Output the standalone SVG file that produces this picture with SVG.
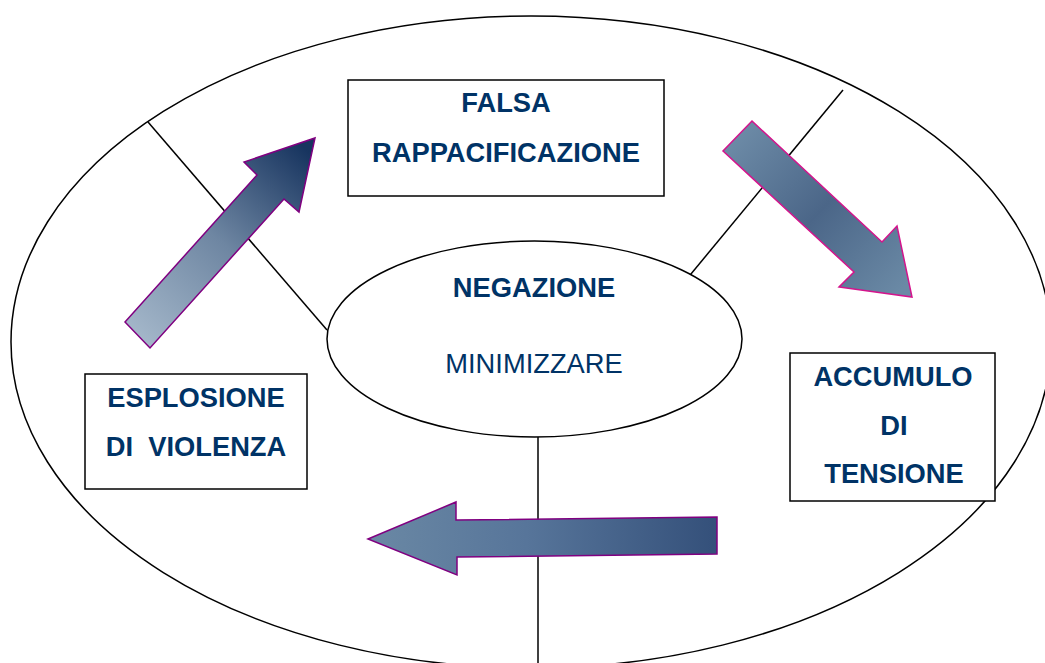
<svg xmlns="http://www.w3.org/2000/svg" width="1045" height="663" viewBox="0 0 1045 663">
<defs>
<linearGradient id="gA" gradientUnits="userSpaceOnUse" x1="137" y1="335" x2="305" y2="148">
<stop offset="0" stop-color="#a3b6c9"/>
<stop offset="0.5" stop-color="#6e86a2"/>
<stop offset="1" stop-color="#17345f"/>
</linearGradient>
<linearGradient id="gB" gradientUnits="userSpaceOnUse" x1="737" y1="136" x2="900" y2="290">
<stop offset="0" stop-color="#6c8aa6"/>
<stop offset="0.5" stop-color="#4b6688"/>
<stop offset="1" stop-color="#6a89a5"/>
</linearGradient>
<linearGradient id="gC" gradientUnits="userSpaceOnUse" x1="370" y1="540" x2="717" y2="530">
<stop offset="0" stop-color="#6a88a4"/>
<stop offset="0.45" stop-color="#57759a"/>
<stop offset="1" stop-color="#34507a"/>
</linearGradient>
<style>
.ln{fill:none;stroke:#000;stroke-width:1.5}
.box{fill:#fff;stroke:#000;stroke-width:1.5}
.lb{font-family:"Liberation Sans",Arial,sans-serif;font-size:27.3px;font-weight:bold;fill:#003366;text-anchor:middle}
.lr{font-family:"Liberation Sans",Arial,sans-serif;font-size:27.3px;fill:#003366;text-anchor:middle}
</style>
</defs>
<rect width="1045" height="663" fill="#fff"/>
<ellipse id="outer" cx="531" cy="342" rx="520" ry="326" class="ln"/>
<g id="connectors">
<line x1="148" y1="122" x2="327" y2="330" class="ln"/>
<line x1="843" y1="90" x2="686" y2="280" class="ln"/>
<line x1="538" y1="437" x2="538" y2="663" class="ln"/>
</g>
<g id="arrows">
<polygon points="125,322 257,175 244,162 315,138 299,212 284,199 150,348" fill="url(#gA)" stroke="#800080" stroke-width="1.5" stroke-linejoin="miter"/>
<polygon points="752,121 882,242 897,226 912,297 839,287 854,272 723,151" fill="url(#gB)" stroke="#d4148c" stroke-width="1.5"/>
<polygon points="368,539 456,502 456,520 717,517 717,554 457,557 457,575" fill="url(#gC)" stroke="#800080" stroke-width="1.5"/>
</g>
<g id="negazione">
<ellipse cx="534.5" cy="339" rx="207.5" ry="98" class="box"/>
<text x="534" y="297" class="lb">NEGAZIONE</text>
<text x="534" y="373" class="lr">MINIMIZZARE</text>
</g>
<g id="falsa">
<rect x="348" y="80" width="316" height="116" class="box"/>
<text x="506" y="112" class="lb">FALSA</text>
<text x="506" y="162" class="lb">RAPPACIFICAZIONE</text>
</g>
<g id="esplosione">
<rect x="85" y="374" width="222" height="115" class="box"/>
<text x="196" y="407" class="lb">ESPLOSIONE</text>
<text x="196" y="456" class="lb" xml:space="preserve" style="white-space:pre">DI  VIOLENZA</text>
</g>
<g id="accumulo">
<rect x="790" y="353" width="205" height="148" class="box"/>
<text x="893" y="386" class="lb">ACCUMULO</text>
<text x="894" y="435" class="lb">DI</text>
<text x="894" y="483" class="lb">TENSIONE</text>
</g>
</svg>
